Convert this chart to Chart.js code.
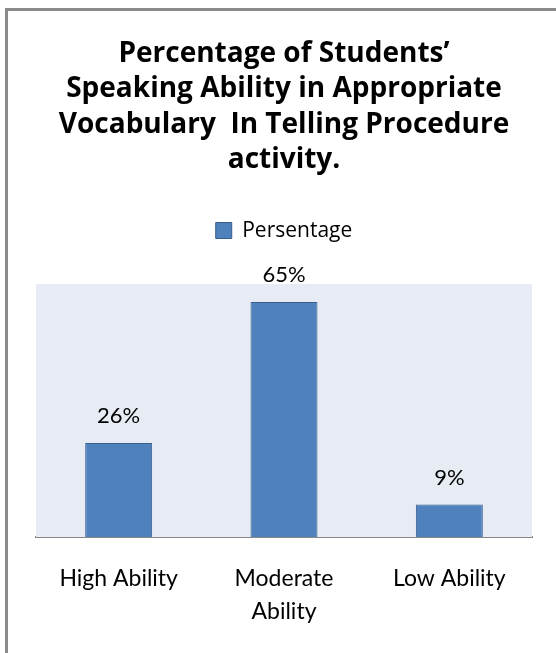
<!DOCTYPE html>
<html>
<head>
<meta charset="utf-8">
<script src="https://cdn.jsdelivr.net/npm/chart.js@4"></script>
<style>
  html, body { margin: 0; padding: 0; background: #ffffff; }
  #wrap { position: relative; width: 556px; height: 653px; overflow: hidden; }
  #frame { position: absolute; left: 5px; top: 8px; width: 600px; height: 700px;
           border-left: 3px solid #8a8a8a; border-top: 3px solid #8a8a8a; pointer-events: none; }
  canvas { position: absolute; left: 0; top: 0; }
</style>
</head>
<body>
<div id="wrap">
  <canvas id="c" width="556" height="653"></canvas>
  <div id="frame"></div>
</div>
<script>
const titleLines = ["Percentage of Students\u2019", "Speaking Ability in Appropriate", "Vocabulary  In Telling Procedure", "activity."];
const categories = ["High Ability", ["Moderate", "Ability"], "Low Ability"];
const seriesName = "Persentage";
const values = [26, 65, 9];

const FONT = "Lato";
const TITLE_FONT = "'Open Sans'";

const plotBg = {
  id: 'plotBg',
  beforeDatasetsDraw(chart) {
    const a = chart.chartArea, ctx = chart.ctx;
    ctx.save();
    ctx.fillStyle = '#E7ECF4';
    ctx.fillRect(a.left, a.top, a.right - a.left, a.bottom - a.top);
    ctx.restore();
  }
};

const legendSpace = {
  id: 'legendSpace',
  afterInit(chart) {
    const lg = chart.legend;
    if (!lg) return;
    const orig = lg.fit.bind(lg);
    lg.fit = function () { orig(); this.height += 33; };
  }
};

const valueLabels = {
  id: 'valueLabels',
  afterDatasetsDraw(chart) {
    const ctx = chart.ctx;
    const meta = chart.getDatasetMeta(0);
    ctx.save();
    ctx.fillStyle = '#000000';
    ctx.font = '22px ' + FONT;
    ctx.textAlign = 'center';
    ctx.textBaseline = 'middle';
    meta.data.forEach((bar, i) => {
      ctx.fillText(values[i] + '%', bar.x, bar.y - 27);
    });
    ctx.restore();
  }
};

new Chart(document.getElementById('c'), {
  type: 'bar',
  data: {
    labels: categories,
    datasets: [{
      label: seriesName,
      data: values,
      backgroundColor: '#4F81BD',
      borderColor: '#385D8A',
      borderWidth: 1,
      barPercentage: 0.405,
      categoryPercentage: 1
    }]
  },
  options: {
    responsive: false,
    animation: false,
    layout: { padding: { left: 36, right: 24, top: 0, bottom: 0 } },
    plugins: {
      title: {
        display: true,
        text: titleLines,
        color: '#000000',
        font: { family: TITLE_FONT, size: 28, weight: 'bold', lineHeight: 1.268 },
        padding: { top: 36, bottom: 9 }
      },
      legend: {
        display: true,
        position: 'top',
        labels: {
          color: '#000000',
          font: { family: TITLE_FONT, size: 21 },
          boxWidth: 16,
          boxHeight: 16,
          padding: 33
        }
      },
      tooltip: { enabled: false }
    },
    scales: {
      x: {
        grid: { display: false, drawTicks: false },
        border: { display: true, color: '#868686', width: 2 },
        ticks: {
          color: '#000000',
          font: { family: FONT, size: 23, lineHeight: 1.43 },
          padding: 25,
          maxRotation: 0,
          autoSkip: false
        },
        afterFit(scale) { scale.height = 116; }
      },
      y: {
        display: false,
        min: 0,
        max: 70
      }
    }
  },
  plugins: [legendSpace, plotBg, valueLabels]
});
</script>
</body>
</html>
